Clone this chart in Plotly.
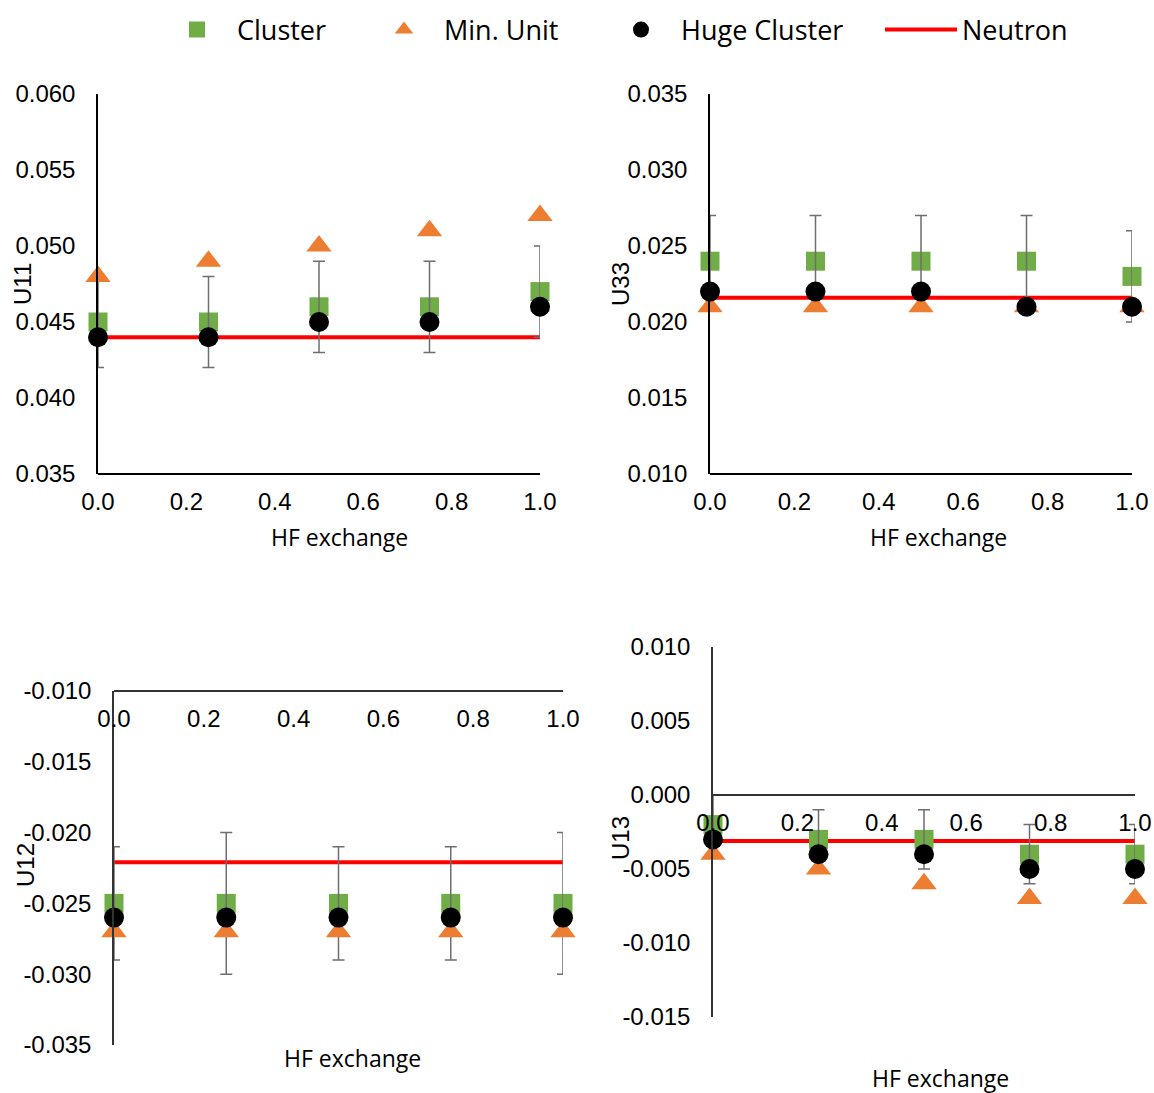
import plotly.graph_objects as go

# HF exchange fraction (x) for all four panels
hf = [0.0, 0.25, 0.5, 0.75, 1.0]
x_ticks = [0.0, 0.2, 0.4, 0.6, 0.8, 1.0]
x_tick_labels = ["0.0", "0.2", "0.4", "0.6", "0.8", "1.0"]

# U11
u11_cluster = [0.045, 0.045, 0.046, 0.046, 0.047]
u11_cluster_err = [0.003, 0.003, 0.003, 0.003, 0.003]
u11_min_unit = [0.048, 0.049, 0.050, 0.051, 0.052]
u11_huge = [0.044, 0.044, 0.045, 0.045, 0.046]
u11_neutron = 0.044
u11_ticks = [0.035, 0.040, 0.045, 0.050, 0.055, 0.060]
u11_tick_labels = ["0.035", "0.040", "0.045", "0.050", "0.055", "0.060"]

# U33
u33_cluster = [0.024, 0.024, 0.024, 0.024, 0.023]
u33_cluster_err = [0.003, 0.003, 0.003, 0.003, 0.003]
u33_min_unit = [0.021, 0.021, 0.021, 0.021, 0.021]
u33_huge = [0.022, 0.022, 0.022, 0.021, 0.021]
u33_neutron = 0.0216
u33_ticks = [0.010, 0.015, 0.020, 0.025, 0.030, 0.035]
u33_tick_labels = ["0.010", "0.015", "0.020", "0.025", "0.030", "0.035"]

# U12
u12_cluster = [-0.025, -0.025, -0.025, -0.025, -0.025]
u12_cluster_err = [0.004, 0.005, 0.004, 0.004, 0.005]
u12_min_unit = [-0.027, -0.027, -0.027, -0.027, -0.027]
u12_huge = [-0.026, -0.026, -0.026, -0.026, -0.026]
u12_neutron = -0.0221
u12_ticks = [-0.035, -0.030, -0.025, -0.020, -0.015, -0.010]
u12_tick_labels = ["-0.035", "-0.030", "-0.025", "-0.020", "-0.015", "-0.010"]

# U13
u13_cluster = [-0.002, -0.003, -0.003, -0.004, -0.004]
u13_cluster_err = [0.002, 0.002, 0.002, 0.002, 0.002]
u13_min_unit = [-0.004, -0.005, -0.006, -0.007, -0.007]
u13_huge = [-0.003, -0.004, -0.004, -0.005, -0.005]
u13_neutron = -0.0031
u13_ticks = [-0.015, -0.010, -0.005, 0.000, 0.005, 0.010]
u13_tick_labels = ["-0.015", "-0.010", "-0.005", "0.000", "0.005", "0.010"]

W, H = 1154, 1093
GREEN = "#70AD47"
ORANGE = "#ED7D31"
BLACK = "#000000"
RED = "#FF0000"
ERR = "#6E6E6E"
TICK_FONT = dict(family="Liberation Sans, Arial", size=24, color="#000")
TITLE_FONT = dict(family="Open Sans, Noto Sans", size=23, color="#000")
LEG_FONT = dict(family="Open Sans, Noto Sans", size=27, color="#000")


def px_x(p):
    return p / W


def px_y(p):
    return 1 - p / H


panels = [
    # (suffix, series, y range, y ticks, x domain px, y domain px, axis crossing)
    ("", (u11_cluster, u11_cluster_err, u11_min_unit, u11_huge, u11_neutron),
     [0.035, 0.060], (u11_ticks, u11_tick_labels), (98, 540), (94, 474), 0.035),
    ("2", (u33_cluster, u33_cluster_err, u33_min_unit, u33_huge, u33_neutron),
     [0.010, 0.035], (u33_ticks, u33_tick_labels), (710, 1132), (94, 474), 0.010),
    ("3", (u12_cluster, u12_cluster_err, u12_min_unit, u12_huge, u12_neutron),
     [-0.035, -0.010], (u12_ticks, u12_tick_labels), (114, 563), (691, 1045), -0.010),
    ("4", (u13_cluster, u13_cluster_err, u13_min_unit, u13_huge, u13_neutron),
     [-0.015, 0.010], (u13_ticks, u13_tick_labels), (713, 1135), (647, 1017), 0.0),
]

fig = go.Figure()
layout = {}

for i, (sfx, (cl, cl_err, mu, hc, neu), yr, (yt, ytl), (x0, x1), (y0, y1), cross) in enumerate(panels):
    xa, ya = "x" + sfx, "y" + sfx
    first = i == 0
    # Neutron reference line
    fig.add_trace(go.Scatter(
        x=hf, y=[neu] * len(hf), mode="lines", name="Neutron",
        line=dict(color=RED, width=4), xaxis=xa, yaxis=ya,
        showlegend=first, legend="legend4", cliponaxis=False))
    # Cluster markers
    fig.add_trace(go.Scatter(
        x=hf, y=cl, mode="markers", name="Cluster",
        marker=dict(symbol="square", size=19, color=GREEN),
        xaxis=xa, yaxis=ya, showlegend=first, legend="legend", cliponaxis=False))
    # Cluster error bars (clipped at the plot edge)
    fig.add_trace(go.Scatter(
        x=hf, y=cl, mode="markers", marker=dict(size=1, color="rgba(0,0,0,0)"),
        error_y=dict(type="data", array=cl_err, visible=True, color=ERR, thickness=1.5, width=6),
        xaxis=xa, yaxis=ya, showlegend=False, hoverinfo="skip", cliponaxis=True))
    fig.add_trace(go.Scatter(
        x=hf, y=mu, mode="markers", name="Min. Unit",
        marker=dict(symbol="triangle-up", size=22, color=ORANGE),
        xaxis=xa, yaxis=ya, showlegend=first, legend="legend2", cliponaxis=False))
    fig.add_trace(go.Scatter(
        x=hf, y=hc, mode="markers", name="Huge Cluster",
        marker=dict(symbol="circle", size=20, color=BLACK),
        xaxis=xa, yaxis=ya, showlegend=first, legend="legend3", cliponaxis=False))

    xdom = [px_x(x0), px_x(x1)]
    ydom = [px_y(y1), px_y(y0)]
    line_col = "#000" if i < 2 else "#333"
    # horizontal axis crosses the vertical one at `cross`
    frac = (cross - yr[0]) / (yr[1] - yr[0])
    xaxis = dict(domain=xdom, range=[0, 1], tickvals=x_ticks, ticktext=x_tick_labels,
                 showline=True, linecolor=line_col, linewidth=1.5, showgrid=False,
                 zeroline=False, ticks="", tickfont=TICK_FONT, ticklabelstandoff=6,
                 side="bottom", anchor="free",
                 position=ydom[0] + frac * (ydom[1] - ydom[0]),
                 automargin=False, fixedrange=True)
    yaxis = dict(domain=ydom, range=yr, tickvals=yt, ticktext=ytl,
                 showline=True, linecolor=line_col, linewidth=1.5, showgrid=False,
                 zeroline=False, ticks="", tickfont=TICK_FONT, ticklabelstandoff=16,
                 anchor=xa, automargin=False, fixedrange=True)
    layout["xaxis" + sfx] = xaxis
    layout["yaxis" + sfx] = yaxis

annotations = []
for text, cx, cy in [("HF exchange", 339, 537), ("HF exchange", 938, 537),
                     ("HF exchange", 353, 1058), ("HF exchange", 940, 1078)]:
    annotations.append(dict(text=text, x=px_x(cx), y=px_y(cy), xref="paper", yref="paper",
                            showarrow=False, font=TITLE_FONT, xanchor="center", yanchor="middle"))
for text, cx, cy in [("U11", 22, 284), ("U33", 620, 284), ("U12", 25, 865), ("U13", 620, 838)]:
    annotations.append(dict(text=text, x=px_x(cx), y=px_y(cy), xref="paper", yref="paper",
                            showarrow=False, font=TICK_FONT, textangle=-90,
                            xanchor="center", yanchor="middle"))

leg_common = dict(orientation="h", font=LEG_FONT, bgcolor="rgba(0,0,0,0)",
                  xanchor="left", yanchor="middle", y=px_y(30))
layout["legend"] = dict(leg_common, x=px_x(157), itemwidth=70)
layout["legend2"] = dict(leg_common, x=px_x(364), itemwidth=70)
layout["legend3"] = dict(leg_common, x=px_x(601), itemwidth=70)
layout["legend4"] = dict(leg_common, x=px_x(880), itemwidth=72)

fig.update_layout(
    width=W, height=H, margin=dict(l=0, r=0, t=0, b=0, autoexpand=False),
    paper_bgcolor="white", plot_bgcolor="white",
    annotations=annotations, **layout)

fig.write_html("out.html")
